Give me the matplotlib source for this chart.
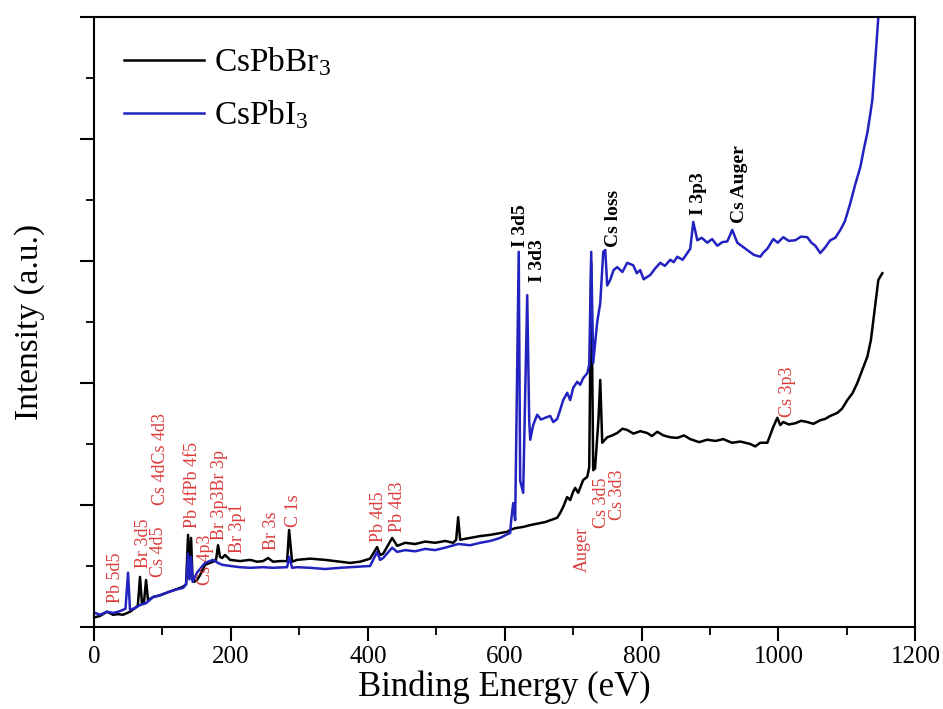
import matplotlib
matplotlib.use("Agg")
import matplotlib.pyplot as plt
from matplotlib.ticker import MultipleLocator, NullFormatter

plt.rcParams['font.family'] = ['Liberation Serif', 'DejaVu Serif']
plt.rcParams['mathtext.fontset'] = 'custom'
plt.rcParams['mathtext.rm'] = 'Liberation Serif'
plt.rcParams['mathtext.it'] = 'Liberation Serif:italic'

# CsPbBr3 survey spectrum (binding energy eV, intensity a.u.)
br_energy = [1.5, 8.8, 19.0, 27.8, 35.1, 42.4, 52.6, 59.9, 64, 67.2, 70, 73, 76.0, 78.9,
             86.2, 96.5, 108.2, 118.4, 130.1, 134.5, 137.4, 138.9, 141.8, 144, 146.2,
             150.5, 154.9, 162.2, 173.9, 178.3, 181.2, 184, 187.1, 191.5, 198.8, 213.4,
             228, 238.2, 247, 254.3, 261.6, 271.9, 282.1, 285.0, 289.4, 296.7, 315.7,
             337.6, 359.6, 374.2, 388.8, 403.4, 413.6, 418, 422.4, 435.6, 442.9, 454.6,
             469.2, 483.8, 498.4, 513, 524.7, 529.1, 532.0, 534.9, 549.6, 564.2, 578.8,
             593.4, 603.6, 608, 615.3, 627, 637.3, 659.2, 666.5, 676.7, 681.1, 685.5,
             691.3, 695.7, 700.1, 703, 707.4, 714.7, 720.6, 723.5, 726.4, 729.3, 732,
             737, 739.6, 742.5, 749.8, 757, 764.4, 772, 779.0, 788, 798, 808.3, 815,
             822.9, 832, 841.9, 852.1, 862, 871.1, 884, 896, 908, 919.3, 932, 944.2,
             958.8, 966, 973.4, 983.7, 992.4, 998.3, 1002.7, 1007, 1015, 1024.6, 1033,
             1042.1, 1051, 1061.1, 1068, 1075.7, 1086, 1093, 1100.6, 1108, 1115.2, 1122,
             1129.8, 1135, 1138.6, 1142, 1145.9, 1151.7]
br_counts = [0.16, 0.18, 0.25, 0.20, 0.21, 0.20, 0.25, 0.31, 0.35, 0.82, 0.39, 0.40, 0.77,
             0.44, 0.49, 0.52, 0.57, 0.61, 0.66, 0.70, 1.51, 0.80, 1.46, 0.78, 0.74, 0.77,
             0.85, 1.02, 1.07, 1.10, 1.34, 1.15, 1.13, 1.18, 1.10, 1.08, 1.10, 1.07, 1.08,
             1.13, 1.07, 1.08, 1.08, 1.59, 1.07, 1.10, 1.12, 1.10, 1.07, 1.05, 1.07, 1.12,
             1.31, 1.18, 1.20, 1.46, 1.33, 1.38, 1.36, 1.40, 1.38, 1.41, 1.38, 1.43, 1.80,
             1.43, 1.46, 1.49, 1.51, 1.54, 1.56, 1.59, 1.62, 1.64, 1.67, 1.72, 1.75, 1.79,
             1.87, 1.97, 2.13, 2.08, 2.22, 2.28, 2.20, 2.41, 2.46, 2.62, 5.97, 2.57, 2.60,
             3.40, 4.05, 3.02, 3.11, 3.14, 3.18, 3.25, 3.23, 3.17, 3.21, 3.18, 3.13, 3.20,
             3.14, 3.11, 3.10, 3.14, 3.08, 3.03, 3.07, 3.05, 3.08, 3.02, 3.04, 3.00, 2.96,
             3.02, 3.02, 3.28, 3.43, 3.31, 3.36, 3.32, 3.34, 3.38, 3.36, 3.33, 3.39, 3.41,
             3.46, 3.51, 3.58, 3.72, 3.83, 4.00, 4.20, 4.43, 4.70, 5.03, 5.35, 5.69, 5.80]

# CsPbI3 survey spectrum
i_energy = [1.5, 8.8, 19.0, 27.8, 35.1, 42.4, 46, 49.7, 52.6, 59.9, 67.2, 76.0, 86.2,
            96.5, 108.2, 118.4, 130.1, 134.5, 137.4, 139.5, 141.8, 144, 150.5, 154.9,
            162.2, 173.9, 181.2, 187.1, 198.8, 213.4, 228, 247, 261.6, 282.1, 285,
            289.4, 296.7, 315.7, 337.6, 359.6, 374.2, 403.4, 413.6, 418, 422.4, 435.6,
            442.9, 454.6, 469.2, 483.8, 498.4, 513, 532, 549.6, 564.2, 578.8, 593.4,
            603.6, 608, 609.5, 612.4, 615.3, 620.5, 622.6, 627.0, 632.9, 635.8, 637.3,
            641.6, 647.5, 653, 659.2, 666.5, 671, 676.7, 681.1, 685.5, 691.3, 695.7,
            700.1, 705.9, 710.3, 714.7, 720.6, 723.5, 726.4, 729.3, 735.2, 739.6, 744,
            746.9, 749.8, 754.2, 759, 764.4, 772, 779, 787.8, 793, 798, 803, 808.3,
            812.6, 820, 827.3, 834, 841.9, 847, 852.1, 860, 866.7, 871.1, 875.5, 881.4,
            888, 896, 903, 910.6, 918, 925.2, 932.5, 939.8, 947, 954.4, 964, 973.4,
            978, 983.7, 992.4, 999, 1007, 1015, 1024.6, 1033, 1042.1, 1048, 1053.8,
            1061.1, 1068, 1075.7, 1083, 1090.4, 1097, 1105, 1112, 1119.6, 1125, 1129.8,
            1134, 1137.1, 1141.5, 1145.9, 1151.7]
i_counts = [0.23, 0.20, 0.25, 0.23, 0.25, 0.28, 0.30, 0.89, 0.28, 0.31, 0.36, 0.39, 0.49,
            0.52, 0.57, 0.61, 0.64, 0.70, 1.20, 0.78, 1.15, 0.74, 0.89, 0.95, 1.05, 1.10,
            1.05, 1.02, 1.00, 0.98, 0.97, 0.98, 0.97, 0.98, 1.15, 0.97, 0.98, 0.97, 0.95,
            0.97, 0.98, 1.00, 1.23, 1.10, 1.13, 1.30, 1.23, 1.26, 1.24, 1.28, 1.26, 1.30,
            1.36, 1.34, 1.38, 1.41, 1.46, 1.52, 1.54, 1.75, 2.03, 1.75, 6.15, 2.40, 2.20,
            5.44, 3.39, 3.07, 3.31, 3.48, 3.40, 3.43, 3.46, 3.36, 3.41, 3.56, 3.72, 3.84,
            3.72, 3.92, 4.02, 3.97, 4.08, 4.16, 4.30, 6.15, 4.33, 5.00, 5.31, 6.15, 6.18,
            5.60, 5.69, 5.85, 5.90, 5.82, 5.97, 5.93, 5.80, 5.85, 5.70, 5.74, 5.77, 5.88,
            5.97, 5.92, 6.02, 5.98, 6.07, 6.02, 6.13, 6.20, 6.64, 6.34, 6.38, 6.30, 6.36,
            6.25, 6.31, 6.32, 6.51, 6.30, 6.24, 6.18, 6.10, 6.07, 6.14, 6.20, 6.36, 6.30,
            6.39, 6.33, 6.34, 6.40, 6.39, 6.30, 6.25, 6.13, 6.22, 6.34, 6.38, 6.51, 6.65,
            6.95, 7.25, 7.54, 7.85, 8.10, 8.40, 8.64, 9.30, 10.0, 10.5]

# peak labels: text, energy, bottom of text (a.u.)
red_labels = ["Pb 5d5", "Br 3d5", "Cs 4d5", "Cs 4dCs 4d3", "Pb 4fPb 4f5", "Cs 4p3",
              "Br 3p3Br 3p", "Br 3p1", "Br 3s", "C 1s", "Pb 4d5", "Pb 4d3", "Auger",
              "Cs 3d5", "Cs 3d3", "Cs 3p3"]
red_x = [30.7, 71.6, 93.5, 96.5, 143.2, 162.2, 184, 209, 260, 292, 415, 443, 713,
         742, 765, 1013]
red_y = [0.39, 0.97, 0.82, 2.00, 1.62, 0.69, 1.43, 1.21, 1.26, 1.64, 1.39, 1.56, 0.90,
         1.62, 1.75, 3.44]

black_labels = ["I 3d5", "I 3d3", "Cs loss", "I 3p3", "Cs Auger"]
black_x = [622.6, 647.5, 758.6, 882.8, 942.7]
black_y = [6.23, 5.66, 6.23, 6.75, 6.62]

fig = plt.figure(figsize=(9.43, 7.09), dpi=100)
ax = fig.add_axes([0.0997, 0.1157, 0.8710, 0.8603])

ax.plot(br_energy, br_counts, color='black', lw=1.8, label='CsPbBr$_3$')
ax.plot(i_energy, i_counts, color='#2222c0', lw=1.8, label='CsPbI$_3$')

for t, x, y in zip(red_labels, red_x, red_y):
    ax.text(x, y, t, rotation=90, ha='center', va='bottom', color='#dd3b3b',
            fontsize=13)
for t, x, y in zip(black_labels, black_x, black_y):
    ax.text(x, y, t, rotation=90, ha='center', va='bottom', color='black',
            fontsize=14, fontweight='bold')

ax.set_xlim(0, 1200)
ax.set_ylim(0, 10)
ax.xaxis.set_major_locator(MultipleLocator(200))
ax.xaxis.set_minor_locator(MultipleLocator(100))
ax.yaxis.set_major_locator(MultipleLocator(2))
ax.yaxis.set_minor_locator(MultipleLocator(1))
ax.yaxis.set_major_formatter(NullFormatter())
ax.tick_params(which='major', direction='out', length=10, width=1.5, labelsize=18)
ax.tick_params(which='minor', direction='out', length=6, width=1.3)
for s in ax.spines.values():
    s.set_linewidth(1.5)

ax.set_xlabel('Binding Energy (eV)', fontsize=25, labelpad=2)
ax.set_ylabel('Intensity (a.u.)', fontsize=24, labelpad=22)

ax.legend(loc='upper left', bbox_to_anchor=(0.02, 0.975), frameon=False, fontsize=24,
          handlelength=2.4, handletextpad=0.3, labelspacing=0.6, borderaxespad=0)

fig.savefig('out.png', dpi=100)
